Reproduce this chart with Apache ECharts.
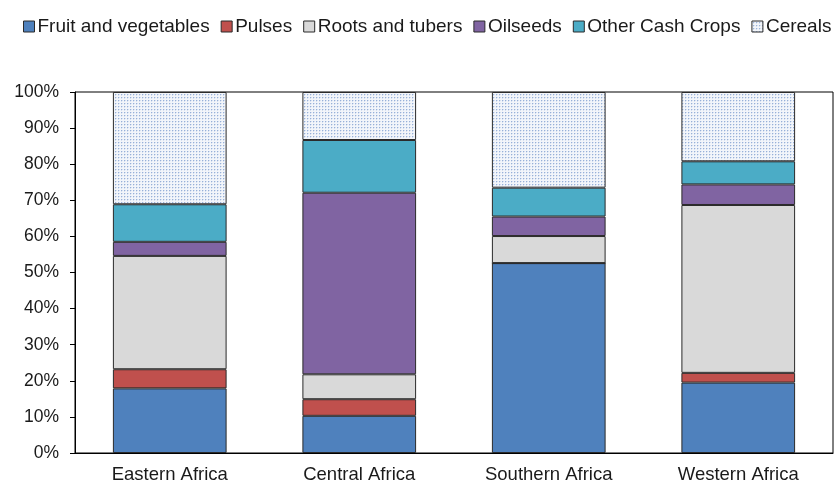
<!DOCTYPE html>
<html>
<head>
<meta charset="utf-8">
<script src="https://cdn.jsdelivr.net/npm/echarts@6/dist/echarts.min.js"></script>
<style>html,body{margin:0;padding:0;background:#fff}#c{width:838px;height:484px}</style>
</head>
<body>
<div id="c"></div>
<script>
var categories = ["Eastern Africa", "Central Africa", "Southern Africa", "Western Africa"];
var fruitVeg = [17.9, 10.3, 52.6, 19.5];
var pulses = [5.3, 4.6, 0, 2.7];
var rootsTubers = [31.4, 6.9, 7.5, 46.5];
var oilseeds = [3.9, 50.3, 5.4, 5.7];
var otherCash = [10.4, 14.6, 8.0, 6.4];
var cereals = [31.1, 13.3, 26.5, 19.2];
var seriesNames = ["Fruit and vegetables", "Pulses", "Roots and tubers", "Oilseeds", "Other Cash Crops", "Cereals"];
var yTicks = [0, 10, 20, 30, 40, 50, 60, 70, 80, 90, 100];

var pc = document.createElement('canvas');
pc.width = 3; pc.height = 3;
var g = pc.getContext('2d');
g.fillStyle = '#f2f5fa'; g.fillRect(0, 0, 3, 3);
g.fillStyle = '#97b0d8'; g.fillRect(1, 1, 1, 1);
g.fillStyle = '#d6e0f0'; g.fillRect(2, 1, 1, 1); g.fillRect(1, 2, 1, 1);
var pattern = {image: pc, repeat: 'repeat'};

var colors = ['#4F81BD', '#C0504D', '#D9D9D9', '#8064A2', '#4BACC6', pattern];
var dataArr = [fruitVeg, pulses, rootsTubers, oilseeds, otherCash, cereals];

var series = seriesNames.map(function (n, i) {
  return {
    name: n, type: 'bar', stack: 'total', barWidth: '60%',
    data: dataArr[i],
    itemStyle: {color: colors[i], borderColor: '#2b2b2b', borderWidth: 1},
    emphasis: {disabled: true}
  };
});

var chart = echarts.init(document.getElementById('c'), null, {renderer: 'canvas'});
chart.setOption({
  animation: false,
  textStyle: {fontFamily: 'Liberation Sans, Arial, sans-serif'},
  legend: {
    left: 18, top: 12, itemWidth: 11, itemHeight: 11, itemGap: 11,
    icon: 'rect',
    textStyle: {fontSize: 19, color: '#1a1a1a', padding: [0, 0, 0, -2]},
    data: seriesNames.map(function (n, i) {
      return {name: n, itemStyle: {color: colors[i], borderColor: '#2b2b2b', borderWidth: 1}};
    })
  },
  grid: {left: 75, right: 5, top: 92, bottom: 28, show: true, borderColor: '#000', borderWidth: 1, backgroundColor: 'transparent'},
  xAxis: {
    type: 'category', data: categories,
    axisLine: {lineStyle: {color: '#000'}},
    axisTick: {show: false},
    axisLabel: {fontSize: 18.5, color: '#1a1a1a', margin: 12}
  },
  yAxis: {
    type: 'value', min: 0, max: 100, interval: 10,
    axisLine: {show: true, lineStyle: {color: '#000'}},
    axisTick: {show: true, inside: false, length: 5, lineStyle: {color: '#000'}},
    splitLine: {show: false},
    axisLabel: {fontSize: 17.5, color: '#1a1a1a', margin: 16, formatter: function (v) { return yTicks.indexOf(v) >= 0 ? v + '%' : ''; }}
  },
  series: series
});
</script>
</body>
</html>
